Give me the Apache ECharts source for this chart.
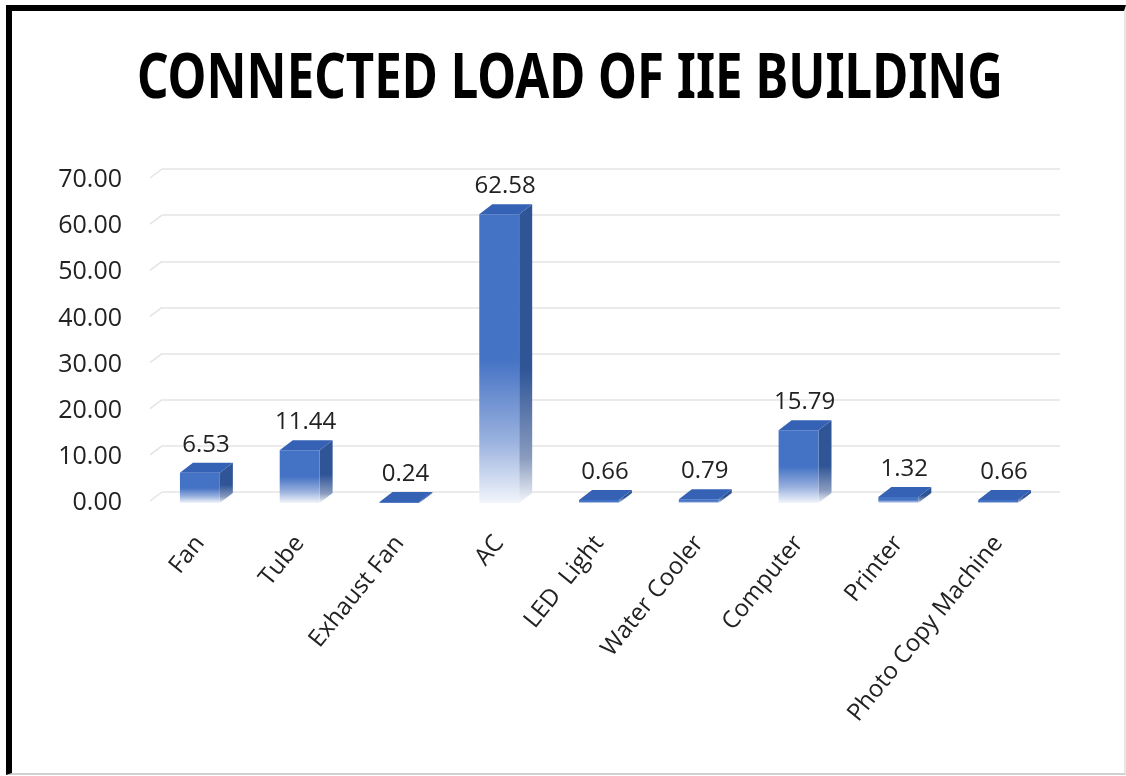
<!DOCTYPE html>
<html>
<head>
	<meta charset="UTF-8">
	<title>Connected Load</title>
	<script src="https://cdn.jsdelivr.net/npm/echarts@6/dist/echarts.min.js"></script>
	<style>
		html, body { margin: 0; padding: 0; background: #fff; }
		#main { position: absolute; left: 0; top: 0; width: 1126px; height: 776px; }
		#frame {
			position: absolute; left: 6px; top: 5px; width: 1112px; height: 762px;
			border-left: 6px solid #000; border-top: 6px solid #000;
			border-right: 2px solid #e6e6e6; border-bottom: 2px solid #d0d0d0;
			pointer-events: none;
		}
	</style>
</head>
<body>
<div id="main"></div>
<div id="frame"></div>
<script type="text/javascript">
	// data
	var titleText = 'CONNECTED LOAD OF IIE BUILDING';
	var categories = ['Fan', 'Tube', 'Exhaust Fan', 'AC', 'LED  Light', 'Water Cooler', 'Computer', 'Printer', 'Photo Copy Machine'];
	var loads = [6.53, 11.44, 0.24, 62.58, 0.66, 0.79, 15.79, 1.32, 0.66];
	var yTicks = [0, 10, 20, 30, 40, 50, 60, 70];

	var DX = 13, DY = 10;   // 3d depth offset of the bars

	// squeeze the title to the width it has in the picture
	var titleFont = 'bold 63px "Noto Sans"';
	var ctx = document.createElement('canvas').getContext('2d');
	ctx.font = titleFont;
	var titleScale = 866 / ctx.measureText(titleText).width;

	var frontGrad = new echarts.graphic.LinearGradient(0, 0, 0, 1, [
		{offset: 0, color: '#4472c4'},
		{offset: 0.5, color: '#4472c4'},
		{offset: 0.78, color: '#98b0de'},
		{offset: 1, color: '#f2f5fb'}
	]);
	var sideGrad = new echarts.graphic.LinearGradient(0, 0, 0, 1, [
		{offset: 0, color: '#2f5597'},
		{offset: 0.55, color: '#2f5597'},
		{offset: 0.85, color: '#8a9cbf'},
		{offset: 1, color: '#f4f6fa'}
	]);

	function renderBar(params, api) {
		var i = api.value(0), v = api.value(1);
		var top = api.coord([i, v]), base = api.coord([i, 0]);
		var hw = api.size([1, 0])[0] * 0.2;
		var x0 = top[0] - hw, x1 = top[0] + hw, yt = top[1], yb = base[1];
		return {
			type: 'group',
			children: [
				{type: 'polygon', shape: {points: [[x1, yt], [x1 + DX, yt - DY], [x1 + DX, yb - DY], [x1, yb]]}, style: {fill: sideGrad}},
				{type: 'rect', shape: {x: x0, y: yt, width: hw * 2, height: Math.max(yb - yt, 0.5)}, style: {fill: frontGrad}},
				{type: 'polygon', shape: {points: [[x0, yt], [x0 + DX, yt - DY], [x1 + DX, yt - DY], [x1, yt]]}, style: {fill: '#3562b4'}}
			]
		};
	}

	// little slanted lines where the back-wall grid meets the side wall
	function renderWallTick(params, api) {
		var p = api.coord([0, api.value(0)]);
		return {
			type: 'line',
			shape: {x1: p[0] - 12, y1: p[1] + 9, x2: p[0], y2: p[1]},
			style: {stroke: '#e4e4e4', lineWidth: 1.5}
		};
	}

	var myChart = echarts.init(document.getElementById('main'));

	var option = {
		animation: false,
		textStyle: {fontFamily: '"Open Sans", sans-serif'},
		graphic: [{
			type: 'text',
			x: 570, y: 80,
			scaleX: titleScale,
			style: {text: titleText, font: titleFont, fill: '#000', align: 'center', verticalAlign: 'middle'}
		}],
		grid: [
			{left: 150, right: 78, top: 180, bottom: 273},   // bars
			{left: 162, right: 66, top: 169, bottom: 284}    // back wall grid lines
		],
		xAxis: [
			{
				type: 'category',
				gridIndex: 0,
				data: categories,
				axisLine: {show: false},
				axisTick: {show: false},
				axisLabel: {interval: 0, rotate: 51, margin: 36, fontSize: 24, color: '#222'}
			},
			{type: 'value', gridIndex: 1, min: 0, max: 1, show: false}
		],
		yAxis: [
			{
				type: 'value',
				gridIndex: 0,
				min: 0, max: 70, interval: 10,
				axisLine: {show: false},
				axisTick: {show: false},
				splitLine: {show: false},
				axisLabel: {
					margin: 28, fontSize: 25, color: '#222',
					formatter: function (v) { return v.toFixed(2); }
				}
			},
			{
				type: 'value',
				gridIndex: 1,
				min: 0, max: 70, interval: 10,
				axisLine: {show: false},
				axisTick: {show: false},
				axisLabel: {show: false},
				splitLine: {lineStyle: {color: '#e4e4e4', width: 1.5}}
			}
		],
		series: [
			{
				type: 'custom',
				xAxisIndex: 1, yAxisIndex: 1,
				silent: true,
				renderItem: renderWallTick,
				encode: {y: 0},
				data: yTicks.map(function (v) { return [v]; })
			},
			{
				type: 'custom',
				xAxisIndex: 0, yAxisIndex: 0,
				renderItem: renderBar,
				encode: {x: 0, y: 1},
				data: loads.map(function (v, i) { return [i, v]; }),
				z: 3
			},
			{
				name: 'labels',
				type: 'bar',
				xAxisIndex: 0, yAxisIndex: 0,
				barWidth: 40,
				silent: true,
				itemStyle: {color: 'rgba(0,0,0,0)'},
				label: {
					show: true, position: 'top', distance: 16, offset: [6, 0],
					fontSize: 24, color: '#222',
					formatter: function (p) { return p.value.toFixed(2); }
				},
				data: loads,
				z: 4
			}
		]
	};

	myChart.setOption(option);
</script>
</body>
</html>
